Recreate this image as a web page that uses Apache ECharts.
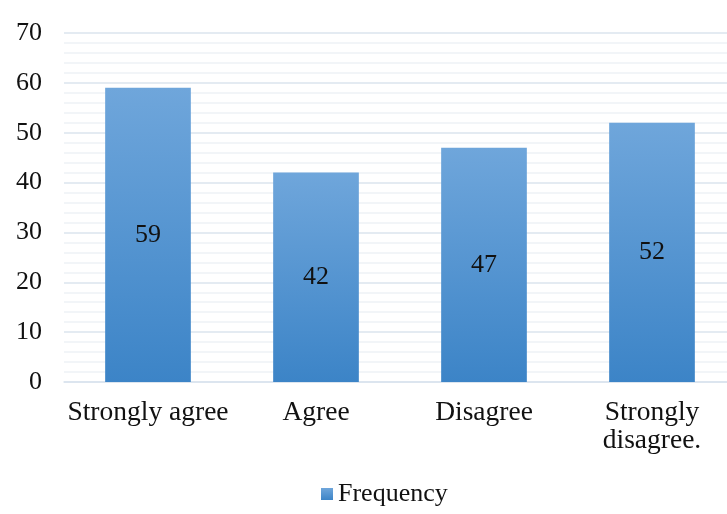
<!DOCTYPE html>
<html lang="en">
<head>
    <meta charset="UTF-8">
    <title>Frequency</title>
    <style>
        html, body { margin: 0; padding: 0; background: #fff; overflow: hidden; }
        /* a bit wider than the window so the plot runs off the right edge like the original */
        #main { width: 736px; height: 514px; }
    </style>
</head>
<body>
<div id="main"></div>
<script src="https://cdn.jsdelivr.net/npm/echarts@6/dist/echarts.min.js"></script>
<script>
    const myChart = echarts.init(document.getElementById('main'));

    // data
    const categories = ['Strongly agree', 'Agree', 'Disagree', 'Strongly disagree.'];
    const frequency = [59, 42, 47, 52];
    const seriesName = 'Frequency';

    const serif = '"Liberation Serif", "Times New Roman", serif';

    const barColor = new echarts.graphic.LinearGradient(0, 0, 0, 1, [
        { offset: 0, color: '#6fa6db' },
        { offset: 1, color: '#3c84c7' }
    ]);

    const option = {
        animation: false,
        grid: { left: 64, right: 0, top: 33, bottom: 132 },
        legend: {
            bottom: 2,
            left: 316,
            data: [seriesName],
            icon: 'rect',
            itemWidth: 12,
            itemHeight: 12,
            itemGap: 4,
            textStyle: { fontFamily: serif, fontSize: 26, color: '#111' }
        },
        xAxis: {
            type: 'category',
            data: categories,
            axisLine: { lineStyle: { color: '#d9e3ee', width: 1.5 } },
            axisTick: { show: false },
            axisLabel: {
                interval: 0,
                fontFamily: serif, fontSize: 27.5, color: '#111', margin: 17, lineHeight: 28,
                formatter: v => v.length > 15 ? v.replace(' ', '\n') : v
            }
        },
        yAxis: {
            type: 'value',
            min: 0, max: 70, interval: 10,
            axisLine: { show: false },
            axisTick: { show: false },
            axisLabel: { fontFamily: serif, fontSize: 26, color: '#111', margin: 22 },
            splitLine: { lineStyle: { color: '#dbe4ee', width: 1.5 } },
            minorTick: { show: false, splitNumber: 5 },
            minorSplitLine: { show: true, lineStyle: { color: '#eef2f6', width: 1.5 } }
        },
        series: [{
            name: seriesName,
            type: 'bar',
            data: frequency,
            barWidth: '51%',
            itemStyle: { color: barColor },
            label: {
                show: true,
                position: 'inside',
                fontFamily: serif, fontSize: 26, color: '#111'
            }
        }]
    };

    myChart.setOption(option);
</script>
</body>
</html>
